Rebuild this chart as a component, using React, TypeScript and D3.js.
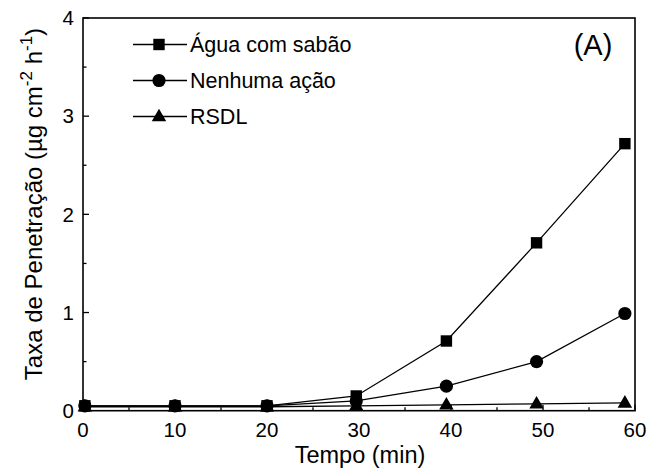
import React from "react";
import * as d3 from "d3";

const times = [0.2, 10, 20, 29.7, 39.5, 49.3, 58.9];
const aguaComSabao = [0.05, 0.05, 0.05, 0.15, 0.71, 1.71, 2.72];
const nenhumaAcao = [0.05, 0.05, 0.05, 0.1, 0.25, 0.5, 0.99];
const rsdl = [0.04, 0.04, 0.04, 0.05, 0.06, 0.07, 0.08];
const xTicks = [0, 10, 20, 30, 40, 50, 60];
const xMinor = [5, 15, 25, 35, 45, 55];
const yTicks = [0, 1, 2, 3, 4];
const yMinor = [0.5, 1.5, 2.5, 3.5];
const seriesNames = ["Água com sabão", "Nenhuma ação", "RSDL"];

const W = 649;
const H = 470;
const L = 83, R = 635, T = 18, B = 410.7;
const FONT = "'Liberation Sans', Arial, sans-serif";

function Marker({ kind, x, y }: { kind: number; x: number; y: number }) {
  if (kind === 0) return <rect x={x - 5.7} y={y - 5.7} width={11.4} height={11.4} fill="#000" />;
  if (kind === 1) return <circle cx={x} cy={y} r={6.6} fill="#000" />;
  const s = 14.5;
  const h = s * 0.87;
  return (
    <path
      d={`M${x},${y - h * 0.62} L${x + s / 2},${y + h * 0.38} L${x - s / 2},${y + h * 0.38} Z`}
      fill="#000"
    />
  );
}

export default function App() {
  const x = d3.scaleLinear().domain([0, 60]).range([L, R]);
  const y = d3.scaleLinear().domain([0, 4]).range([B, T]);
  const series = [aguaComSabao, nenhumaAcao, rsdl];
  const line = d3
    .line<number>()
    .x((_, i) => x(times[i]))
    .y((d) => y(d));

  const legendY = [44.5, 80.5, 116.5];

  return (
    <div style={{ position: "absolute", left: 0, top: 0 }}>
      <svg width={W} height={H} style={{ display: "block", fontFamily: FONT }}>
        <rect width={W} height={H} fill="#fff" />
        {series.map((s, k) => (
          <path key={"l" + k} d={line(s) || ""} fill="none" stroke="#000" strokeWidth={1.3} />
        ))}
        {series.map((s, k) =>
          s.map((v, i) => <Marker key={`m${k}-${i}`} kind={k} x={x(times[i])} y={y(v)} />)
        )}
        <rect x={L} y={T} width={R - L} height={B - T} fill="none" stroke="#000" strokeWidth={1.6} />
        {xTicks.map((t) => (
          <g key={"xt" + t}>
            <line x1={x(t)} x2={x(t)} y1={B} y2={B - 6} stroke="#000" strokeWidth={1.3} />
            <text x={x(t)} y={437} textAnchor="middle" fontSize={20.5}>
              {t}
            </text>
          </g>
        ))}
        {xMinor.map((t) => (
          <line key={"xm" + t} x1={x(t)} x2={x(t)} y1={B} y2={B - 3.5} stroke="#000" strokeWidth={1.3} />
        ))}
        {yTicks.map((t) => (
          <g key={"yt" + t}>
            <line x1={L} x2={L + 6} y1={y(t)} y2={y(t)} stroke="#000" strokeWidth={1.3} />
            <text x={74} y={y(t) + 7.3} textAnchor="end" fontSize={20.5}>
              {t}
            </text>
          </g>
        ))}
        {yMinor.map((t) => (
          <line key={"ym" + t} x1={L} x2={L + 3.5} y1={y(t)} y2={y(t)} stroke="#000" strokeWidth={1.3} />
        ))}
        <text x={360} y={463} textAnchor="middle" fontSize={23.5}>
          Tempo (min)
        </text>
        <text transform="translate(42,204) rotate(-90)" textAnchor="middle" fontSize={24}>
          Taxa de Penetração (µg cm
          <tspan fontSize={17} dy={-10}>-2</tspan>
          <tspan dy={10}> h</tspan>
          <tspan fontSize={17} dy={-10}>-1</tspan>
          <tspan dy={10}>)</tspan>
        </text>
        {seriesNames.map((n, k) => (
          <g key={"lg" + k}>
            <line x1={133} x2={187} y1={legendY[k]} y2={legendY[k]} stroke="#000" strokeWidth={1.3} />
            <Marker kind={k} x={159} y={legendY[k]} />
            <text x={190} y={legendY[k] + 7.7} fontSize={21.5}>
              {n}
            </text>
          </g>
        ))}
        <text x={593} y={55} textAnchor="middle" fontSize={29}>
          (A)
        </text>
      </svg>
    </div>
  );
}
